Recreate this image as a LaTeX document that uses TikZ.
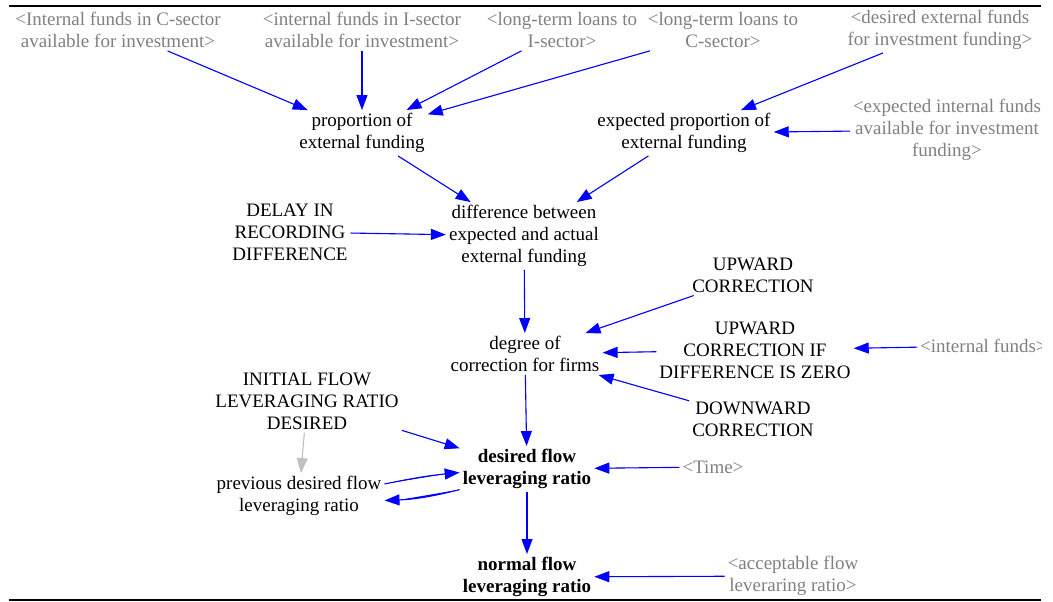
\documentclass[tikz,border=0pt]{standalone}
\usepackage{fontspec}
\setmainfont{Liberation Serif}
\usetikzlibrary{arrows.meta}
\definecolor{lnkblue}{RGB}{0,0,255}
\definecolor{shadow}{RGB}{128,128,128}
\definecolor{lightarr}{RGB}{192,192,192}
\tikzset{
  var/.style={align=center, inner sep=3pt, font=\fontsize{19}{22}\selectfont},
  bvar/.style={var, font=\fontsize{19}{22}\selectfont\bfseries},
  ghost/.style={var, text=shadow},
  lnk/.style={draw=lnkblue, line width=1.1pt, -{Triangle[length=15pt,width=11pt]}, fill=lnkblue},
  glnk/.style={draw=lightarr, line width=1.1pt, -{Triangle[length=15pt,width=11pt]}, fill=lightarr},
}
\begin{document}
\begin{tikzpicture}[x=1pt,y=-1pt]
\useasboundingbox (0,0) rectangle (1053,602);
\begin{scope}
\clip (0,0) rectangle (1041,602);
\draw[line width=2pt] (9,6) -- (1041,6);
\draw[line width=2pt] (9,600) -- (1041,600);

\node[ghost] (cfund) at (118,30) {<Internal funds in C-sector\\available for investment>};
\node[ghost] (ifund) at (362,30) {<internal funds in I-sector\\available for investment>};
\node[ghost] (loanI) at (562,30) {<long-term loans to\\I-sector>};
\node[ghost] (loanC) at (723,30) {<long-term loans to\\C-sector>};
\node[ghost] (desext) at (940,30) {<desired external funds\\for investment funding>};
\node[ghost] (expint) at (947,130) {<expected internal funds\\available for investment\\funding>};

\node[var] (prop) at (362,133) {proportion of\\external funding};
\node[var] (expprop) at (684,133) {expected proportion of\\external funding};
\node[var] (diff) at (524,236) {difference between\\expected and actual\\external funding};
\node[var] (delay) at (290,232) {DELAY IN\\RECORDING\\DIFFERENCE};
\node[var] (degree) at (525,354) {degree of\\correction for firms};
\node[var] (upc) at (753,275) {UPWARD\\CORRECTION};
\node[var] (upz) at (755,350) {UPWARD\\CORRECTION IF\\DIFFERENCE IS ZERO};
\node[ghost, anchor=west] (intf) at (917,346) {<internal funds>};
\node[var] (downc) at (753,419) {DOWNWARD\\CORRECTION};
\node[var] (init) at (307,401) {INITIAL FLOW\\LEVERAGING RATIO\\DESIRED};
\node[bvar] (desired) at (527,469) {desired flow\\leveraging ratio};
\node[var] (prev) at (299,496) {previous desired flow\\leveraging ratio};
\node[ghost] (time) at (713,467) {<Time>};
\node[bvar] (normal) at (527,577) {normal flow\\leveraging ratio};
\node[ghost] (accept) at (793,576) {<acceptable flow\\leveraring ratio>};

\draw[lnk] (cfund) -- (prop);
\draw[lnk] (ifund) -- (prop);
\draw[lnk] (loanI) -- (prop);
\draw[lnk] (loanC) -- (prop);
\draw[lnk] (desext) -- (expprop);
\draw[lnk] (expint) -- (expprop);
\draw[lnk] (prop) -- (diff);
\draw[lnk] (expprop) -- (diff);
\draw[lnk] (delay) -- (diff);
\draw[lnk] (diff) -- (degree);
\draw[lnk] (upc) -- (degree);
\draw[lnk] (upz) -- (degree);
\draw[lnk] (intf) -- (upz);
\draw[lnk] (downc) -- (degree);
\draw[lnk] (degree) -- (desired);
\draw[lnk] (init) -- (desired);
\draw[glnk] (init) -- (prev);
\draw[lnk] (prev.8) to[bend left=3] (desired.183);
\draw[lnk] (desired.197) to[bend left=6] (prev.357);
\draw[lnk] (time) -- (desired);
\draw[lnk] (desired) -- (normal);
\draw[lnk] (accept) -- (normal);
\end{scope}
\end{tikzpicture}
\end{document}
